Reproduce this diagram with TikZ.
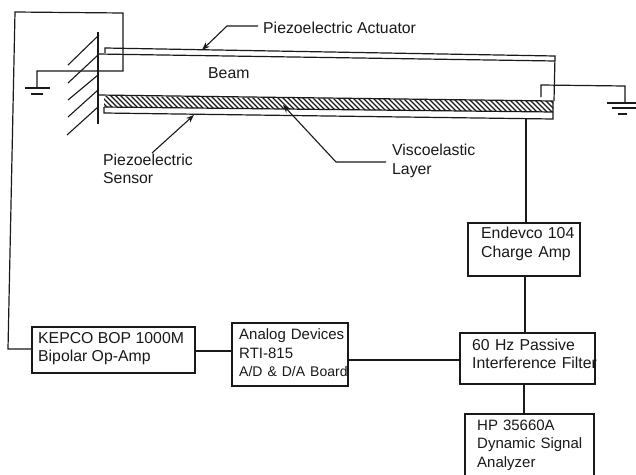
\documentclass[tikz,border=0pt]{standalone}
\usepackage{fontspec}
\setmainfont{Liberation Sans}
\usetikzlibrary{arrows.meta}
\tikzset{
  x=1pt,y=-1pt,
  wire/.style={line width=1.2pt,black!90},
  boxed/.style={draw=black!90,line width=1.4pt,inner sep=0pt,outer sep=0pt},
  txt/.style={anchor=west,inner sep=0pt,font=\fontsize{15.8}{18.5}\selectfont,align=left,text=black!90},
  small/.style={font=\fontsize{15}{18.5}\selectfont},
  lead/.style={line width=1.1pt,black!90},
  tip/.style={-{Stealth[length=8pt,width=6pt,open]}}
}
\newcommand{\boxat}[5]{\node[boxed,minimum width=#3pt-#1pt,minimum height=#4pt-#2pt] (#5) at ({(#1+#3)/2},{(#2+#4)/2}) {};}
\begin{document}
\begin{tikzpicture}
\path[use as bounding box,clip] (0,0) rectangle (636,474);
\fill[white] (0,0) rectangle (636,474);
% boxes
\boxat{32}{327}{195}{373}{kepco}
\boxat{232}{323}{348}{386}{analog}
\boxat{460}{333}{595}{384}{filter}
\boxat{468}{223}{580}{276}{endevco}
\boxat{465}{414}{594}{490}{hp}
\node[txt] (t1) at (38,338) {KEPCO BOP 1000M};
\node[txt] (t2) at (38,357) {Bipolar Op-Amp};
\node[txt,small,text width=130pt] (t3) at (239,353) {Analog Devices\\RTI-815\\{\fontsize{14}{18.5}\selectfont A/D \& D/A Board}};
\node[txt,text width=140pt] (t4) at (472,354) {60 Hz Passive\\Interference Filter};
\node[txt,text width=110pt] (t5) at (481,244) {Endevco 104\\Charge Amp};
\node[txt,small,text width=125pt] (t6) at (477,445) {HP 35660A\\Dynamic Signal\\Analyzer};
% wall
\draw[lead] (98,32)--(98,124);
\foreach \a/\b/\c/\d in {99/35/68/65,98/55/68/83,98/75/68/100,98/90/68/117,98/107/67/135}
  \draw[lead] (\a,\b)--(\c,\d);
% beam: hatched layer
\begin{scope}
\clip (104,96)--(553,101)--(553,112)--(104,107)--cycle;
\foreach \h in {90,95,...,560}
  \draw[line width=1.3pt,black!90] (\h,90)--(\h+26,116);
\end{scope}
\draw[wire] (98,95)--(553,101);
\draw[wire] (104,107)--(553,112);
\draw[wire] (104,107)--(104,113)--(553,119)--(553,101);
\draw[wire] (105,53)--(105,48)--(555,56)--(554,101);
\draw[wire] (98,54)--(555,61);
\node[txt] (beam) at (208,73) {Beam};
% wiring
\coordinate (a2) at (123,13);
\coordinate (a3) at (15,12);
\coordinate (a4) at (8,349);
\coordinate (a5) at (123,71);
\coordinate (g1) at (37,71);
\coordinate (g2) at (37,88);
\draw[wire] (kepco.west |- a4)--(a4)--(a3)--(a2)--(a5)--(g1)--(g2);
\draw[wire] (25,88)--(50,88) (31,94)--(43,94);
\coordinate (r1) at (541,97);
\coordinate (r2) at (541,85);
\coordinate (r3) at (625,86);
\coordinate (r4) at (625,103);
\draw[wire] (r1)--(r2)--(r3)--(r4);
\draw[wire] (607,103)--(636,103) (612,108)--(636,108) (618,114)--(627,114);
\coordinate (s1) at (526,119);
\draw[wire] (s1)--(endevco.north -| s1);
\draw[wire] (endevco.south -| 525,0)--(filter.north -| 525,0);
\draw[wire] (filter.south -| 524,0)--(hp.north -| 524,0);
\draw[wire] (kepco.east |- 0,351)--(analog.west |- 0,351);
\draw[wire] (analog.east |- 0,360)--(filter.west |- 0,360);
% labels with leaders
\node[txt] (act) at (263,28) {Piezoelectric Actuator};
\coordinate (act1) at (227,26);
\coordinate (act2) at (202,50);
\draw[lead,tip] (act.west)++(-5,-2) -- (act1) -- (act2);
\node[txt,text width=90pt] (sen) at (103,169) {Piezoelectric\\Sensor};
\coordinate (sen1) at (194,115);
\draw[lead,tip] (152,153) -- (sen1);
\node[txt,text width=80pt] (vis) at (392,161) {Viscoelastic\\Layer};
\coordinate (v1) at (336,162);
\coordinate (v2) at (283,105);
\draw[lead,tip] (386,162) -- (v1) -- (v2);
\end{tikzpicture}
\end{document}
